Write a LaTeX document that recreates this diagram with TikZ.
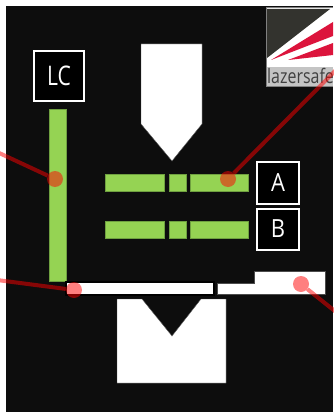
\documentclass[tikz,border=0pt]{standalone}
\usepackage{fontspec}
\setmainfont{Open Sans}
\definecolor{bg}{HTML}{0D0D0D}
\definecolor{barg}{HTML}{95D353}
\definecolor{bare}{HTML}{6FA040}
\definecolor{logod}{HTML}{33332E}
\definecolor{logor}{HTML}{DC143C}
\definecolor{logob}{HTML}{C4C4C4}
\tikzset{
  greenbar/.style={fill=barg,draw=bare,line width=.4pt},
  whiteshape/.style={fill=white,draw=black!70,line width=.4pt},
  labelbox/.style={draw=white,fill=black,line width=2pt,text=white,font=\fontsize{25}{25}\selectfont,inner sep=0pt,anchor=center},
  marker/.style={circle,fill=red,opacity=.5,minimum size=16pt,inner sep=0pt},
  leader/.style={draw=red,draw opacity=.5,line width=4pt}
}
\begin{document}
\begin{tikzpicture}[x=1pt,y=-1pt]
\useasboundingbox (0,0) rectangle (333,412);
\fill[white] (0,0) rectangle (333,412);
\fill[bg] (6,6) rectangle (333,412);
% logo
\begin{scope}
\clip (266,8) rectangle (333,86);
\fill[white] (266,8) rectangle (333,86);
\fill[logod] (267,9) -- (330,9) -- (267,58) -- cycle;
\fill[logor] (271,60) -- (333,22) -- (333,36) -- cycle;
\fill[logor] (288,60) -- (333,43) -- (333,55) -- cycle;
\fill[logob] (266,67) rectangle (333,86);
\node[anchor=west,inner sep=0pt,text=black!75,font=\fontsize{19}{19}\selectfont] (logotext) at (267,76) {\scalebox{.84}[1.05]{lazersafe}};
\draw[black!50,line width=1pt] (266,8) -- (333,8) (266,8) -- (266,86) -- (333,86);
\end{scope}
% press
\fill[whiteshape] (141,44) -- (202,44) -- (202,124) -- (172,161) -- (141,124) -- cycle;
\fill[whiteshape] (117,299) -- (142,299) -- (172,336) -- (201,299) -- (226,299) -- (226,383) -- (117,383) -- cycle;
% bars
\draw[greenbar] (49,109) rectangle (66,281);
\foreach \y in {174,221}{
  \draw[greenbar] (105,\y) rectangle (164,\y+17);
  \draw[greenbar] (169,\y) rectangle (186,\y+17);
  \draw[greenbar] (190,\y) rectangle (248.6,\y+17);
}
\draw[fill=white,draw=black,line width=2pt] (66,282) rectangle (214,295);
\draw[whiteshape] (217,283.5) -- (254,283.5) -- (254,271) -- (325,271) -- (325,294) -- (217,294) -- cycle;
% labels
\node[labelbox,minimum size=50pt] (lc) at (59,76) {\fontsize{27}{27}\selectfont\scalebox{.78}[1]{LC}};
\node[labelbox,minimum width=42pt,minimum height=42pt] (a) at (278,182.5) {\scalebox{.88}[1]{A}};
\node[labelbox,minimum width=42pt,minimum height=41pt] (b) at (278,229) {\scalebox{.88}[1]{B}};
% markers and leaders
\node[marker] (m1) at (55,179) {};
\node[marker] (m2) at (228,179) {};
\node[marker] (m3) at (74,290) {};
\node[marker] (m4) at (301,284) {};
\coordinate (e1) at (-3,152);
\coordinate (e2) at (336,70);
\coordinate (e3) at (-3,280);
\coordinate (e4) at (336,312);
\draw[leader] (m1) -- (e1);
\draw[leader] (m2) -- (e2);
\draw[leader] (m3) -- (e3);
\draw[leader] (m4) -- (e4);
\end{tikzpicture}
\end{document}
